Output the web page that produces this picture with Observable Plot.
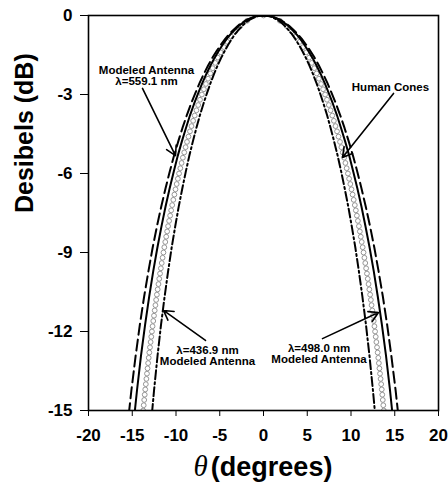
<!DOCTYPE html>
<html>
<head>
<meta charset="utf-8">
<script src="https://cdn.jsdelivr.net/npm/d3@7"></script>
<script src="https://cdn.jsdelivr.net/npm/@observablehq/plot@0.6"></script>
<style>
  html, body { margin: 0; padding: 0; background: #fff; }
  #chart { width: 448px; }
  #xtitle { width: 448px; height: 35px; position: relative; font-family: "Liberation Sans", Arial, sans-serif; }
  #xtitle span.t { position: absolute; left: 263px; top: -2px; transform: translateX(-50%); white-space: nowrap; font-size: 27px; font-weight: bold; }
  #xtitle i { font-family: "Liberation Serif", "DejaVu Serif", serif; font-weight: normal; font-size: 29px; margin-right: 3px; }
</style>
</head>
<body>
<div id="chart"></div>
<div id="xtitle"><span class="t"><i>θ</i>(degrees)</span></div>
<script>
// ---- data (one half; curves are symmetric about 0°) ----
// level (dB) at each sampled point of the modeled-antenna curves
const antennaDb = [0, -0.01, -0.04, -0.10, -0.17, -0.27, -0.39, -0.54, -0.70, -0.89, -1.11, -1.35, -1.61, -1.90, -2.22, -2.57, -2.95, -3.35, -3.79, -4.27, -4.78, -5.33, -5.93, -6.57, -7.26, -8.01, -8.82, -9.71, -10.67, -11.74, -12.92, -14.24, -15.74];
// angle (deg) of each curve at those levels
const theta5591 = [0, 0.49, 0.97, 1.46, 1.95, 2.44, 2.92, 3.41, 3.90, 4.38, 4.87, 5.36, 5.85, 6.33, 6.82, 7.31, 7.79, 8.28, 8.77, 9.26, 9.74, 10.23, 10.72, 11.20, 11.69, 12.18, 12.67, 13.15, 13.64, 14.13, 14.61, 15.10, 15.59];
const theta4980 = [0, 0.47, 0.93, 1.40, 1.87, 2.33, 2.80, 3.27, 3.73, 4.20, 4.67, 5.13, 5.60, 6.06, 6.53, 7.00, 7.46, 7.93, 8.40, 8.86, 9.33, 9.80, 10.26, 10.73, 11.20, 11.66, 12.13, 12.60, 13.06, 13.53, 14.00, 14.46, 14.93];
const theta4369 = [0, 0.40, 0.81, 1.21, 1.61, 2.02, 2.42, 2.83, 3.23, 3.63, 4.04, 4.44, 4.84, 5.25, 5.65, 6.06, 6.46, 6.86, 7.27, 7.67, 8.07, 8.48, 8.88, 9.28, 9.69, 10.09, 10.50, 10.90, 11.30, 11.71, 12.11, 12.51, 12.92];
// human cones (measured points)
const conesDb = [0, -0.2, -0.4, -0.6, -0.8, -1.0, -1.2, -1.4, -1.6, -1.8, -2.0, -2.2, -2.4, -2.6, -2.8, -3.0, -3.2, -3.4, -3.6, -3.8, -4.0, -4.2, -4.4, -4.6, -4.8, -5.0, -5.2, -5.4, -5.6, -5.8, -6.0, -6.2, -6.4, -6.6, -6.8, -7.0, -7.2, -7.4, -7.6, -7.8, -8.0, -8.2, -8.4, -8.6, -8.8, -9.0, -9.2, -9.4, -9.6, -9.8, -10.0, -10.2, -10.4, -10.6, -10.8, -11.0, -11.2, -11.4, -11.6, -11.8, -12.0, -12.2, -12.4, -12.6, -12.8, -13.0, -13.2, -13.4, -13.6, -13.8, -14.0, -14.2, -14.4, -14.6, -14.8, -15.0];
const conesTheta = [0, 1.871, 2.637, 3.218, 3.710, 4.141, 4.529, 4.885, 5.214, 5.516, 5.804, 6.078, 6.332, 6.581, 6.813, 7.040, 7.254, 7.465, 7.663, 7.860, 8.044, 8.228, 8.403, 8.573, 8.743, 8.901, 9.059, 9.214, 9.360, 9.507, 9.650, 9.786, 9.922, 10.057, 10.183, 10.309, 10.435, 10.554, 10.671, 10.787, 10.904, 11.012, 11.119, 11.226, 11.334, 11.434, 11.532, 11.631, 11.730, 11.824, 11.915, 12.005, 12.095, 12.185, 12.270, 12.352, 12.434, 12.516, 12.598, 12.678, 12.752, 12.826, 12.900, 12.974, 13.048, 13.119, 13.185, 13.251, 13.317, 13.383, 13.449, 13.515, 13.575, 13.633, 13.691, 13.750];
// axis ticks
const xTicks = [-20, -15, -10, -5, 0, 5, 10, 15, 20];
const yTicks = [0, -3, -6, -9, -12, -15];
// annotations
const labels = [
  {text: "Modeled Antenna\nλ=559.1 nm", x: -13.37, y: -2.30},
  {text: "Human Cones", x: 14.51, y: -2.73},
  {text: "λ=436.9 nm\nModeled Antenna", x: -6.40, y: -12.93},
  {text: "λ=498.0 nm\nModeled Antenna", x: 6.35, y: -12.86}
];
const arrows = [
  {x1: -13.83, y1: -2.77, x2: -10.06, y2: -5.32},
  {x1: 14.86, y1: -2.96, x2: 9.03, y2: -5.39},
  {x1: -6.63, y1: -12.34, x2: -11.43, y2: -11.20},
  {x1: 6.74, y1: -12.27, x2: 13.14, y2: -11.28}
];

// build full symmetric tables
function mirror(thetas, dbs) {
  const out = [];
  for (let i = thetas.length - 1; i > 0; i--) out.push({x: -thetas[i], y: dbs[i]});
  for (let i = 0; i < thetas.length; i++) out.push({x: thetas[i], y: dbs[i]});
  return out;
}
const c5591 = mirror(theta5591, antennaDb);
const c4980 = mirror(theta4980, antennaDb);
const c4369 = mirror(theta4369, antennaDb);
const cones = mirror(conesTheta, conesDb);

const plot = Plot.plot({
  width: 448,
  height: 452,
  marginLeft: 88,
  marginRight: 10,
  marginTop: 15,
  marginBottom: 42,
  style: {fontFamily: "'Liberation Sans', Arial, sans-serif", fontWeight: "bold", fontSize: "17px", color: "black", background: "white"},
  x: {domain: [-20, 20]},
  y: {domain: [-15, 0]},
  marks: [
    Plot.dot(cones, {x: "x", y: "y", r: 2.4, fill: "white", stroke: "#8a8a8a", strokeWidth: 0.9, clip: true}),
    Plot.line(c5591, {x: "x", y: "y", stroke: "black", strokeWidth: 2, strokeDasharray: "11,5", clip: true}),
    Plot.line(c4980, {x: "x", y: "y", stroke: "black", strokeWidth: 2, clip: true}),
    Plot.line(c4369, {x: "x", y: "y", stroke: "black", strokeWidth: 2, strokeDasharray: "9,3,2,3", clip: true}),
    Plot.arrow(arrows, {x1: "x1", y1: "y1", x2: "x2", y2: "y2", stroke: "black", strokeWidth: 1.6, headLength: 10}),
    Plot.text(labels, {x: "x", y: "y", text: "text", fontSize: 11.5, fontWeight: "bold", lineHeight: 0.95, fill: "black"}),
    Plot.axisX({ticks: xTicks, tickSize: 6, tickPadding: 12, label: null, tickFormat: d => String(d)}),
    Plot.axisY({ticks: yTicks, tickSize: 8, tickPadding: 8, label: null, tickFormat: d => String(d)}),
    Plot.frame({stroke: "black", strokeWidth: 1.6}),
    Plot.text(["Desibels (dB)"], {frameAnchor: "left", dx: -64, rotate: -90, fontSize: 25, fontWeight: "bold", fill: "black"})
  ]
});
document.getElementById("chart").appendChild(plot);
</script>
</body>
</html>
